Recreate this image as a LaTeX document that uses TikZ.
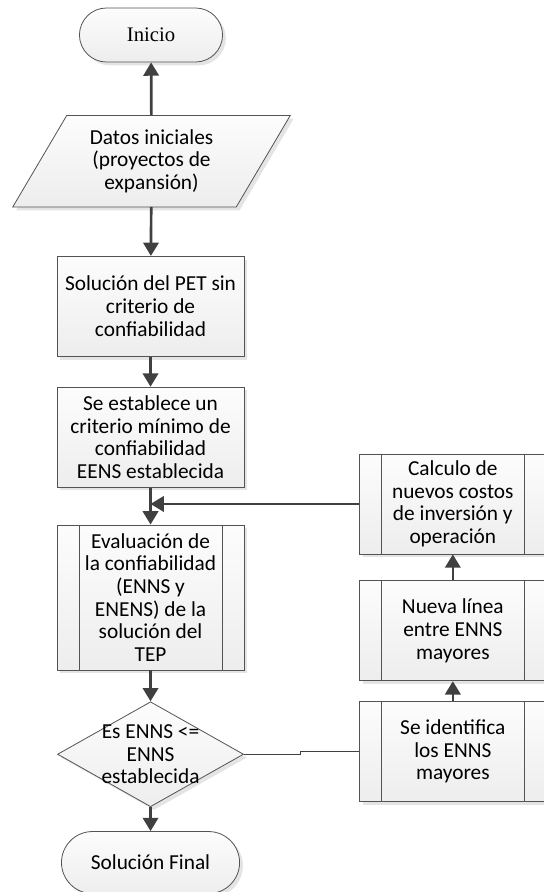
\documentclass[tikz,border=0pt]{standalone}
\usepackage{tikz}
\usepackage{fontspec}
\setmainfont{Carlito}
\newfontfamily\timesfont{Liberation Serif}
\usetikzlibrary{shapes,arrows,positioning,shadows,calc,shapes.geometric,arrows.meta,backgrounds}

\begin{document}
\begin{tikzpicture}[
    font=\fontsize{16pt}{17pt}\selectfont,
    shade/.style={draw=gray!65!black, line width=0.6pt, top color=gray!2, bottom color=gray!14,
      drop shadow={shadow xshift=2.5pt, shadow yshift=-2.5pt, fill=gray!30, opacity=0.7}},
    proc/.style={shade, rectangle, minimum width=140.25pt, minimum height=75pt, inner sep=2pt, align=center},
    subproc/.style={proc, path picture={
        \draw[gray!65!black, line width=0.6pt] ([xshift=16.5pt]path picture bounding box.north west) -- ([xshift=16.5pt]path picture bounding box.south west);
        \draw[gray!65!black, line width=0.6pt] ([xshift=-16.5pt]path picture bounding box.north east) -- ([xshift=-16.5pt]path picture bounding box.south east);}},
    term/.style={shade, rounded rectangle, minimum width=114pt, minimum height=40.5pt, align=center},
    arr/.style={-{Triangle[length=10pt,width=11.5pt]}, line width=2pt, draw=black!75},
    thinline/.style={line width=0.8pt, draw=black!75}
  ]
  \useasboundingbox (0,0) rectangle (407.25pt,-669pt);

  % columna principal
  \node[term, font=\timesfont\fontsize{15.5pt}{17pt}\selectfont] (inicio) at (113.25pt,-26.25pt) {Inicio};
  \node[rectangle, minimum width=167.25pt, minimum height=68.25pt, inner sep=0pt, align=center,
        below=39.75pt of inicio, xshift=0.4pt] (datos) {Datos iniciales\\(proyectos de\\expansión)};
  \begin{scope}[on background layer]
    \path[shade] ([xshift=20.25pt]datos.north west) -- ([xshift=20.25pt]datos.north east)
      -- ([xshift=-20.25pt]datos.south east) -- ([xshift=-20.25pt]datos.south west) -- cycle;
  \end{scope}
  \node[proc, below=36.75pt of datos, xshift=-0.75pt] (sol) {Solución del PET sin\\criterio de\\confiabilidad};
  \node[proc, below=22.5pt of sol] (crit) {Se establece un\\criterio mínimo de\\confiabilidad\\EENS establecida};
  \node[subproc, below=27.75pt of crit, minimum height=108.75pt] (eval) {Evaluación de\\la confiabilidad\\(ENNS y\\ENENS) de la\\solución del\\TEP};
  \node[shade, diamond, below=23.25pt of eval, minimum width=139.5pt, minimum height=78.75pt, inner sep=0pt,
        label={[align=center]center:Es ENNS <=\\ENNS\\establecida}] (dec) {};
  \node[term, below=18pt of dec, minimum width=140.25pt, minimum height=46.5pt] (fin) {Solución Final};

  % lazo de la derecha
  \node[subproc, right=86.25pt of dec, yshift=2pt] (ident) {Se identifica\\los ENNS\\mayores};
  \node[subproc, above=15pt of ident] (nueva) {Nueva línea\\entre ENNS\\mayores};
  \node[subproc, above=19.5pt of nueva] (calc) {Calculo de\\nuevos costos\\de inversión y\\operación};

  \draw[arr] (datos) -- (inicio);
  \draw[arr] (datos) -- (sol);
  \draw[arr] (sol) -- (crit);
  \draw[arr] (crit) -- (eval);
  \draw[arr] (eval) -- (dec);
  \draw[arr] (dec) -- (fin);
  \draw[thinline] (dec.east) -- ++(42.75pt,0) |- (ident.west);
  \draw[arr] (ident) -- (nueva);
  \draw[arr] (nueva) -- (calc);
  \draw[arr] (calc.west) -- (calc.west -| crit.south);
\end{tikzpicture}
\end{document}
